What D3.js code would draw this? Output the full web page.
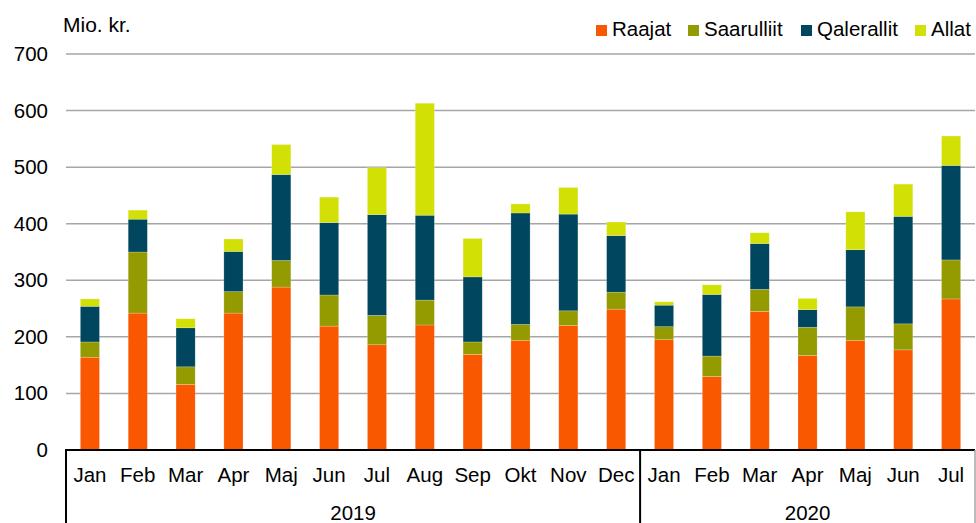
<!DOCTYPE html>
<html>
<head>
<meta charset="utf-8">
<script src="https://cdn.jsdelivr.net/npm/d3@7"></script>
<style>
  body { margin: 0; background: #fff; }
  text { font-family: "Liberation Sans", Arial, sans-serif; fill: #000; font-size: 20.5px; }
</style>
</head>
<body>
<div id="chart"></div>
<script>
var months = ["Jan","Feb","Mar","Apr","Maj","Jun","Jul","Aug","Sep","Okt","Nov","Dec",
              "Jan","Feb","Mar","Apr","Maj","Jun","Jul"];
var years = [{label: "2019", from: 0, to: 11}, {label: "2020", from: 12, to: 18}];
var seriesNames = ["Raajat", "Saarulliit", "Qalerallit", "Allat"];
var colors = ["#f95800", "#939b00", "#00465e", "#d2e005"];

var raajat     = [164, 242, 116, 242, 288, 219, 186, 221, 169, 194, 220, 249, 195, 130, 245, 167, 194, 177, 267];
var saarulliit = [ 27, 108,  31,  38,  47,  55,  52,  44,  22,  28,  26,  30,  23,  36,  39,  50,  59,  46,  69];
var qalerallit = [ 63,  58,  69,  71, 152, 128, 178, 150, 115, 197, 171, 100,  38, 109,  81,  31, 101, 190, 167];
var allat      = [ 13,  16,  16,  22,  53,  45,  83, 198,  68,  16,  47,  24,   6,  17,  19,  20,  67,  57,  52];
var yTicks = [0, 100, 200, 300, 400, 500, 600, 700];

var width = 976, height = 523;
var plotLeft = 66, plotRight = 975, plotTop = 54, plotBottom = 450;

var svg = d3.select("#chart").append("svg")
    .attr("width", width)
    .attr("height", height);

var rows = months.map(function(m, i) {
  return {i: i, Raajat: raajat[i], Saarulliit: saarulliit[i], Qalerallit: qalerallit[i], Allat: allat[i]};
});

var xScale = d3.scaleBand()
    .domain(d3.range(months.length))
    .range([plotLeft, plotRight]);

var yScale = d3.scaleLinear()
    .domain([0, 700])
    .range([plotBottom, plotTop]);

// gridlines
svg.append("g").selectAll("line")
    .data(yTicks.slice(1))
    .enter().append("line")
    .attr("x1", plotLeft).attr("x2", plotRight)
    .attr("y1", function(d) { return yScale(d); })
    .attr("y2", function(d) { return yScale(d); })
    .attr("stroke", "#a6a6a6")
    .attr("stroke-width", 1.5);

// y tick labels
svg.append("g").selectAll("text")
    .data(yTicks)
    .enter().append("text")
    .attr("x", 48)
    .attr("y", function(d) { return yScale(d) + 7; })
    .attr("text-anchor", "end")
    .text(function(d) { return d; });

svg.append("text")
    .attr("x", 63).attr("y", 32)
    .style("font-size", "21px")
    .text("Mio. kr.");

// stacked bars
var stack = d3.stack().keys(seriesNames)(rows);
var barW = xScale.bandwidth() * 0.4;

svg.append("g").selectAll("g")
    .data(stack)
    .enter().append("g")
    .attr("fill", function(d, k) { return colors[k]; })
    .selectAll("rect")
    .data(function(d) { return d; })
    .enter().append("rect")
    .attr("x", function(d) { return xScale(d.data.i) + (xScale.bandwidth() - barW) / 2; })
    .attr("width", barW)
    .attr("y", function(d) { return yScale(d[1]); })
    .attr("height", function(d) { return yScale(d[0]) - yScale(d[1]); })
    .attr("stroke", "#ffffff")
    .attr("stroke-opacity", 0.35)
    .attr("stroke-width", 0.6);

// category axis
var axis = svg.append("g");
axis.append("line")
    .attr("x1", plotLeft - 1).attr("x2", plotRight)
    .attr("y1", plotBottom).attr("y2", plotBottom)
    .attr("stroke", "#000").attr("stroke-width", 2);

axis.selectAll("text.month")
    .data(months)
    .enter().append("text")
    .attr("class", "month")
    .attr("x", function(d, i) { return xScale(i) + xScale.bandwidth() / 2; })
    .attr("y", 482)
    .attr("text-anchor", "middle")
    .text(function(d) { return d; });

axis.selectAll("text.year")
    .data(years)
    .enter().append("text")
    .attr("class", "year")
    .attr("x", function(d) { return (xScale(d.from) + xScale(d.to) + xScale.bandwidth()) / 2; })
    .attr("y", 520)
    .attr("text-anchor", "middle")
    .text(function(d) { return d.label; });

// group separators
var seps = [plotLeft, xScale(12)];
axis.selectAll("line.sep")
    .data(seps)
    .enter().append("line")
    .attr("class", "sep")
    .attr("x1", function(d) { return d; }).attr("x2", function(d) { return d; })
    .attr("y1", plotBottom).attr("y2", height)
    .attr("stroke", "#000").attr("stroke-width", 2);

axis.append("line")
    .attr("x1", plotRight).attr("x2", plotRight)
    .attr("y1", plotBottom).attr("y2", height)
    .attr("stroke", "#a6a6a6").attr("stroke-width", 1.5);

// legend
var legendX = [596, 688, 801, 915];
var legend = svg.append("g").selectAll("g")
    .data(seriesNames)
    .enter().append("g")
    .attr("transform", function(d, k) { return "translate(" + legendX[k] + ",25)"; });

legend.append("rect")
    .attr("width", 11).attr("height", 11)
    .attr("fill", function(d, k) { return colors[k]; });

legend.append("text")
    .attr("x", 16).attr("y", 11)
    .text(function(d) { return d; });
</script>
</body>
</html>
